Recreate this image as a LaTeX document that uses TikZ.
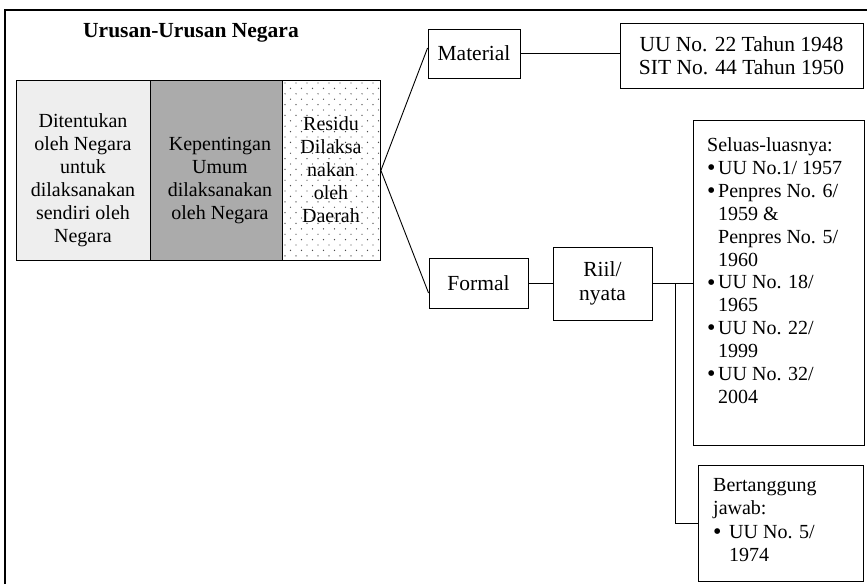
\documentclass[tikz,border=0pt]{standalone}
\usepackage{fontspec}
\setmainfont{Liberation Serif}
\newcommand{\bigbul}{\raisebox{-1.2pt}{\scalebox{1.2}{\textbullet}}}
\begin{document}
\begin{tikzpicture}[x=1pt,y=-1pt,
  box/.style={draw, line width=0.9pt, inner sep=0pt},
  conn/.style={line width=0.9pt},
  bodyfont/.style={font=\fontsize{20}{23}\selectfont},
  bigfont/.style={font=\fontsize{21.5}{23.5}\selectfont}]
\useasboundingbox (0,0) rectangle (867,584);
% outer frame (cut at right and bottom)
\draw[line width=1.4pt] (5,584) -- (5,10) -- (867,10);
\node[font=\bfseries\fontsize{21.5}{24}\selectfont] (title) at (191,33) {Urusan-Urusan Negara};
% three columns
\node[box, fill=gray!13, minimum width=134, minimum height=180, anchor=north west] (negara) at (16,80) {};
\node[box, fill=black!33, minimum width=132, minimum height=180, anchor=north west] (umum) at (150,80) {};
\begin{scope}
  \clip (282,80) rectangle (380,260);
  \foreach \i in {0,...,33} {
    \foreach \j in {0,...,9} {
      \pgfmathsetmacro{\dx}{285+\j*11+mod(\i,2)*5.5}
      \pgfmathsetmacro{\dy}{83+\i*5.4}
      \fill[black!70] (\dx,\dy) circle (0.7);
    }
  }
\end{scope}
\node[box, minimum width=98, minimum height=180, anchor=north west] (residu) at (282,80) {};
\node[bodyfont, align=center] (tnegara) at (83,180) {Ditentukan\\oleh Negara\\untuk\\dilaksanakan\\sendiri oleh\\Negara};
\node[bodyfont, align=center] (tumum) at (220,181) {Kepentingan\\Umum\\dilaksanakan\\oleh Negara};
\node[bodyfont, align=center] (tresidu) at (331,170) {Residu\\Dilaksa\\nakan\\oleh\\Daerah};
% right side boxes
\node[box, bigfont, minimum width=92, minimum height=49] (material) at (474,53.5) {Material};
\node[box, bigfont, minimum width=243, minimum height=65, align=center] (uu) at (741.5,55.5) {UU No. 22 Tahun 1948\\SIT No. 44 Tahun 1950};
\node[box, bigfont, minimum width=99, minimum height=50] (formal) at (478.5,283) {Formal};
\node[box, bigfont, minimum width=99, minimum height=73, align=center] (riil) at (602.5,283.5) {Riil/\\nyata};
\node[box, minimum width=171, minimum height=325, anchor=north west] (seluas) at (693,120) {};
\node[font=\fontsize{20}{22.9}\selectfont, align=left, anchor=north west, inner sep=0pt] (tseluas) at (707,137.5)
  {Seluas-luasnya:\\
   \makebox[11pt][l]{\bigbul}UU No.1/ 1957\\
   \makebox[11pt][l]{\bigbul}Penpres No. 6/\\
   \hspace*{11pt}1959 \&\\
   \hspace*{11pt}Penpres No. 5/\\
   \hspace*{11pt}1960\\
   \makebox[11pt][l]{\bigbul}UU No. 18/\\
   \hspace*{11pt}1965\\
   \makebox[11pt][l]{\bigbul}UU No. 22/\\
   \hspace*{11pt}1999\\
   \makebox[11pt][l]{\bigbul}UU No. 32/\\
   \hspace*{11pt}2004};
\node[box, minimum width=165, minimum height=116, anchor=north west] (bert) at (698,465) {};
\node[font=\fontsize{20}{23.5}\selectfont, align=left, anchor=north west, inner sep=0pt] (tbert) at (713,478)
  {Bertanggung\\jawab:\\
   \makebox[16pt][l]{\bigbul}UU No. 5/\\
   \hspace*{16pt}1974};
% connectors
\draw[conn] (residu.east) -- ([yshift=5.5pt]material.west);
\draw[conn] (residu.east) -- ([yshift=-10pt]formal.west);
\draw[conn] (material.east) -- (material.east -| uu.west);
\draw[conn] (formal.east) -- (formal.east -| riil.west);
\draw[conn] (riil.east) -- (riil.east -| seluas.west);
\coordinate (br) at ([xshift=23pt]riil.east);
\draw[conn] (br) |- (bert.west);
\end{tikzpicture}
\end{document}
